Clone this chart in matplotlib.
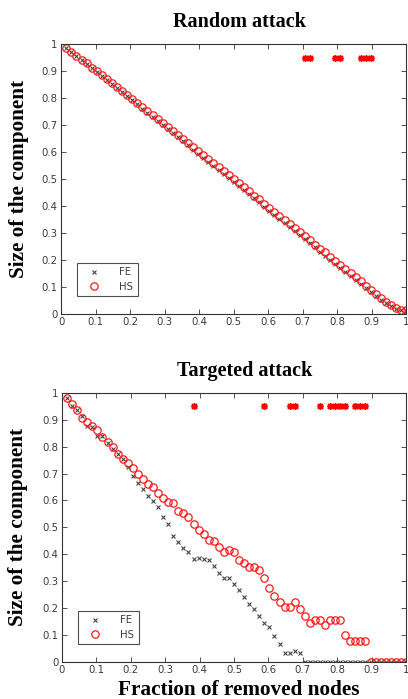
import numpy as np
import matplotlib.pyplot as plt

# fraction of removed nodes (68 nodes, one removed per step)
n_nodes = 68
frac = np.arange(1, n_nodes + 1) / n_nodes

# random attack
rand_hs = [0.985, 0.971, 0.956, 0.942, 0.928, 0.913, 0.899, 0.884, 0.870, 0.855,
           0.840, 0.826, 0.811, 0.797, 0.782, 0.767, 0.752, 0.737, 0.722, 0.706,
           0.692, 0.677, 0.662, 0.648, 0.632, 0.618, 0.602, 0.588, 0.574, 0.558,
           0.543, 0.528, 0.514, 0.498, 0.484, 0.469, 0.454, 0.438, 0.424, 0.408,
           0.394, 0.379, 0.364, 0.348, 0.334, 0.318, 0.303, 0.288, 0.273, 0.257,
           0.242, 0.228, 0.212, 0.197, 0.182, 0.166, 0.151, 0.136, 0.120, 0.104,
           0.088, 0.073, 0.058, 0.044, 0.031, 0.021, 0.015, 0.015]
rand_fe = [0.985, 0.970, 0.955, 0.940, 0.925, 0.910, 0.896, 0.881, 0.866, 0.851,
           0.836, 0.821, 0.806, 0.791, 0.776, 0.761, 0.746, 0.731, 0.716, 0.700,
           0.685, 0.670, 0.655, 0.640, 0.624, 0.609, 0.594, 0.579, 0.564, 0.548,
           0.533, 0.518, 0.503, 0.488, 0.473, 0.458, 0.443, 0.428, 0.413, 0.397,
           0.382, 0.367, 0.352, 0.337, 0.322, 0.306, 0.291, 0.276, 0.261, 0.246,
           0.231, 0.216, 0.201, 0.186, 0.171, 0.156, 0.141, 0.126, 0.111, 0.096,
           0.081, 0.066, 0.052, 0.039, 0.028, 0.019, 0.013, 0.010]
rand_sig = [48, 49, 54, 55, 59, 60, 61]   # steps marked with a star

# targeted attack
targ_hs = [0.981, 0.958, 0.936, 0.908, 0.892, 0.877, 0.861, 0.836, 0.818, 0.799,
           0.772, 0.756, 0.740, 0.722, 0.698, 0.679, 0.663, 0.651, 0.626, 0.611,
           0.595, 0.589, 0.560, 0.554, 0.539, 0.511, 0.492, 0.476, 0.455, 0.450,
           0.428, 0.409, 0.415, 0.409, 0.380, 0.368, 0.354, 0.353, 0.341, 0.312,
           0.275, 0.244, 0.221, 0.204, 0.204, 0.221, 0.195, 0.171, 0.143, 0.155,
           0.155, 0.139, 0.155, 0.155, 0.155, 0.099, 0.077, 0.077, 0.077, 0.077,
           0, 0, 0, 0, 0, 0, 0, 0]
targ_fe = [0.982, 0.952, 0.936, 0.913, 0.876, 0.874, 0.841, 0.841, 0.812, 0.791,
           0.772, 0.756, 0.725, 0.691, 0.665, 0.642, 0.618, 0.597, 0.574, 0.537,
           0.511, 0.467, 0.444, 0.424, 0.409, 0.382, 0.388, 0.382, 0.378, 0.356,
           0.332, 0.312, 0.312, 0.289, 0.266, 0.242, 0.217, 0.196, 0.171, 0.146,
           0.130, 0.095, 0.068, 0.035, 0.035, 0.040, 0.033, 0,
           0, 0, 0, 0, 0, 0, 0, 0, 0, 0,
           0, 0, 0, 0, 0, 0, 0, 0, 0, 0]
targ_sig = [26, 40, 45, 46, 51, 53, 54, 55, 56, 58, 59, 60]
sig_level = 0.95

ticks = np.arange(0, 1.01, 0.1)
tick_labels = ['0', '0.1', '0.2', '0.3', '0.4', '0.5', '0.6', '0.7', '0.8', '0.9', '1']

serif = ['Liberation Serif', 'DejaVu Serif']

fig = plt.figure(figsize=(4.08, 6.99), dpi=100)
ax1 = fig.add_axes([0.150, 0.551, 0.846, 0.386])
ax2 = fig.add_axes([0.152, 0.053, 0.843, 0.385])


def draw(ax, hs, fe, sig, title, tx):
    ax.plot(frac, fe, linestyle='none', marker='x', color='#444444',
            markersize=3.2, markeredgewidth=0.8, label='FE')
    ax.plot(frac, hs, linestyle='none', marker='o', markerfacecolor='none',
            markeredgecolor='#ff1a1a', markersize=5.3, markeredgewidth=0.9, label='HS')
    sx = [frac[i - 1] for i in sig]
    ax.plot(sx, [sig_level] * len(sx), linestyle='none', marker=(8, 2, 0),
            color='#ff0000', markersize=5, markeredgewidth=1.0)
    ax.set_xlim(0, 1)
    ax.set_ylim(0, 1)
    ax.set_xticks(ticks)
    ax.set_xticklabels(tick_labels)
    ax.set_yticks(ticks)
    ax.set_yticklabels(tick_labels)
    ax.tick_params(direction='in', top=True, right=True, length=3.5, width=0.6,
                   labelsize=7.3, labelcolor='#3a3a3a', pad=2.5, color='#333333')
    for s in ax.spines.values():
        s.set_linewidth(0.8)
        s.set_color('#333333')
    ax.set_title(title, family=serif, fontweight='bold', fontsize=14.5,
                 pad=12, x=tx)
    ax.set_ylabel('Size of the component', family=serif, fontweight='bold',
                  fontsize=15.3)
    leg = ax.legend(loc='lower left', bbox_to_anchor=(0.047, 0.065), fontsize=7.3,
                    frameon=True, fancybox=False, borderpad=0.45,
                    handletextpad=1.3, handlelength=2.4, labelspacing=0.45,
                    borderaxespad=0)
    leg.get_frame().set_edgecolor('#222222')
    leg.get_frame().set_linewidth(0.8)
    for t in leg.get_texts():
        t.set_color('#3a3a3a')


draw(ax1, rand_hs, rand_fe, rand_sig, 'Random attack', 0.517)
draw(ax2, targ_hs, targ_fe, targ_sig, 'Targeted attack', 0.531)
ax1.yaxis.set_label_coords(-0.094, 0.5)
ax2.yaxis.set_label_coords(-0.100, 0.5)

ax2.set_xlabel('Fraction of removed nodes', family=serif, fontweight='bold',
               fontsize=15.3)
ax2.xaxis.set_label_coords(0.513, -0.068)

fig.savefig('out.png', dpi=100)
